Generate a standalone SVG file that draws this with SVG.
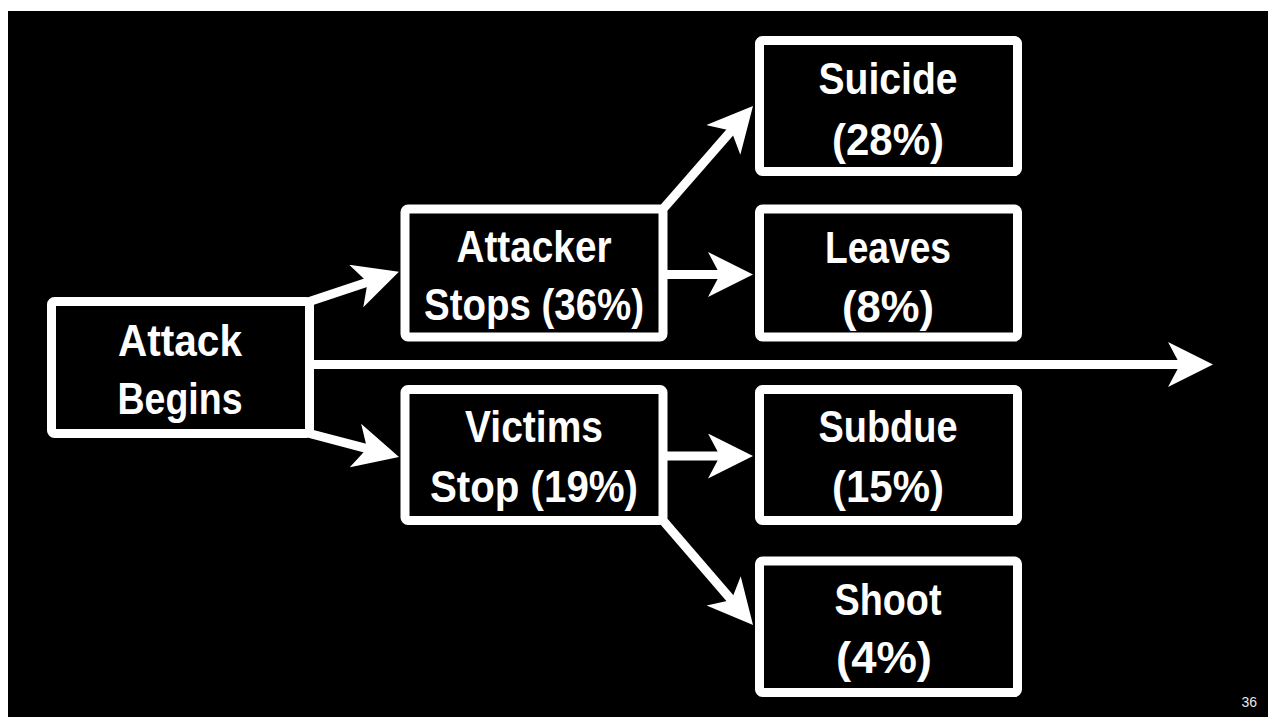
<svg xmlns="http://www.w3.org/2000/svg" width="1268" height="717" viewBox="0 0 1268 717">
<defs>
<style>
.box{fill:#000;stroke:#fff;stroke-width:9;rx:3;ry:3}
.lbl{fill:#fff;font-family:"Liberation Sans",Arial,sans-serif;font-weight:bold;font-size:44px;text-anchor:middle}
.con{stroke:#fff;stroke-width:9;fill:none;marker-end:url(#head)}
.pg{fill:#e8e8e8;font-family:"Liberation Sans",Arial,sans-serif;font-size:14px;text-anchor:end}
</style>
<marker id="head" markerUnits="userSpaceOnUse" markerWidth="46" markerHeight="46" viewBox="0 0 46 46" refX="14" refY="22.5" orient="auto">
<path d="M45,22.5 L0,0 L12,22.5 L0,45 Z" fill="#fff"/>
</marker>
</defs>
<rect x="0" y="0" width="1268" height="717" fill="#fff"/>
<rect x="8" y="11" width="1260" height="706" fill="#000"/>
<g id="connectors">
<line class="con" x1="309.5" y1="301.5" x2="369.5" y2="281.6"/>
<line class="con" x1="309.5" y1="433.5" x2="369" y2="449.1"/>
<line class="con" x1="309.5" y1="364.5" x2="1182" y2="364.5"/>
<line class="con" x1="663" y1="209" x2="732.6" y2="129.3"/>
<line class="con" x1="663" y1="274.5" x2="722" y2="274.5"/>
<line class="con" x1="663" y1="456" x2="722" y2="456"/>
<line class="con" x1="663" y1="520.5" x2="732.8" y2="601.5"/>
</g>
<g id="attack-begins">
<rect class="box" x="51.5" y="301.5" width="258" height="132"/>
<text class="lbl" x="180" y="356" textLength="124" lengthAdjust="spacingAndGlyphs">Attack</text>
<text class="lbl" x="180" y="414" textLength="125" lengthAdjust="spacingAndGlyphs">Begins</text>
</g>
<g id="attacker-stops">
<rect class="box" x="405" y="209" width="258" height="128"/>
<text class="lbl" x="534" y="262" textLength="155" lengthAdjust="spacingAndGlyphs">Attacker</text>
<text class="lbl" x="534" y="320" textLength="220" lengthAdjust="spacingAndGlyphs">Stops (36%)</text>
</g>
<g id="victims-stop">
<rect class="box" x="405" y="389.5" width="258" height="131"/>
<text class="lbl" x="534" y="442" textLength="138" lengthAdjust="spacingAndGlyphs">Victims</text>
<text class="lbl" x="534" y="502" textLength="208" lengthAdjust="spacingAndGlyphs">Stop (19%)</text>
</g>
<g id="suicide">
<rect class="box" x="759.5" y="40.5" width="258" height="131"/>
<text class="lbl" x="888" y="94" textLength="139" lengthAdjust="spacingAndGlyphs">Suicide</text>
<text class="lbl" x="888" y="155" textLength="112" lengthAdjust="spacingAndGlyphs">(28%)</text>
</g>
<g id="leaves">
<rect class="box" x="759.5" y="209" width="258" height="128"/>
<text class="lbl" x="888" y="263" textLength="126" lengthAdjust="spacingAndGlyphs">Leaves</text>
<text class="lbl" x="888" y="322" textLength="92" lengthAdjust="spacingAndGlyphs">(8%)</text>
</g>
<g id="subdue">
<rect class="box" x="759.5" y="389.5" width="258" height="131"/>
<text class="lbl" x="888" y="442" textLength="139" lengthAdjust="spacingAndGlyphs">Subdue</text>
<text class="lbl" x="888" y="502" textLength="112" lengthAdjust="spacingAndGlyphs">(15%)</text>
</g>
<g id="shoot">
<rect class="box" x="759.5" y="561" width="258" height="131.5"/>
<text class="lbl" x="888" y="615" textLength="107" lengthAdjust="spacingAndGlyphs">Shoot</text>
<text class="lbl" x="884" y="673" textLength="96" lengthAdjust="spacingAndGlyphs">(4%)</text>
</g>
<text class="pg" x="1257" y="707">36</text>
</svg>
